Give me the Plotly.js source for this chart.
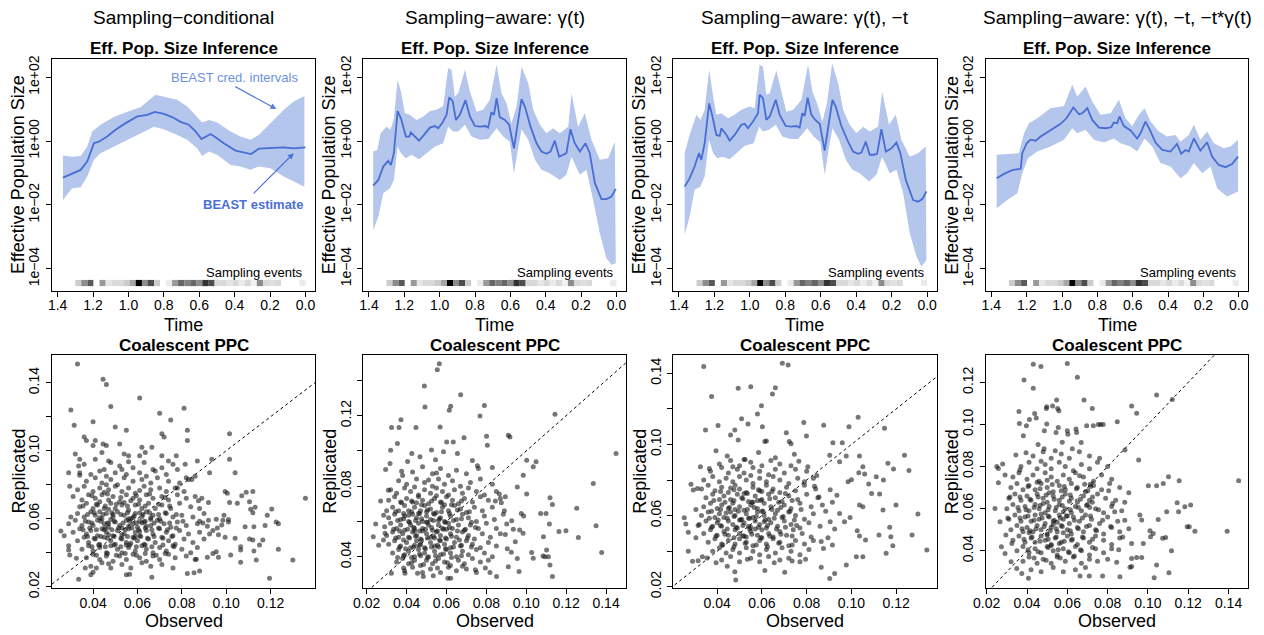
<!DOCTYPE html>
<html><head><meta charset="utf-8">
<script src="https://cdn.plot.ly/plotly-3.0.1.min.js"></script>
<style>html,body{margin:0;padding:0;background:#fff}#chart{width:1264px;height:635px}</style>
</head><body><div id="chart"></div>
<script>
// ---------- DATA ----------
const panelTitles = ["Sampling\u2212conditional", "Sampling\u2212aware: \u03b3(t)", "Sampling\u2212aware: \u03b3(t), \u2212t", "Sampling\u2212aware: \u03b3(t), \u2212t, \u2212t*\u03b3(t)"];
const timeTicks = [1.4, 1.2, 1.0, 0.8, 0.6, 0.4, 0.2, 0.0];
const timeTickText = ["1.4", "1.2", "1.0", "0.8", "0.6", "0.4", "0.2", "0.0"];
const neTicks = [1e-4, 1e-2, 1, 1e2];
const neTickText = ["1e\u221204", "1e\u221202", "1e+00", "1e+02"];

// [time, log10 Ne]
const med1 = [[1.370,-1.145],[1.318,-1.01],[1.270,-0.905],[1.233,-0.644],[1.195,-0.07],[1.167,-0.02],[1.120,0.14],[1.073,0.35],[1.016,0.56],[0.950,0.77],[0.894,0.82],[0.851,0.91],[0.800,0.85],[0.753,0.75],[0.706,0.60],[0.659,0.51],[0.621,0.30],[0.587,0.06],[0.565,0.12],[0.536,0.22],[0.508,0.12],[0.461,-0.07],[0.395,-0.30],[0.348,-0.36],[0.307,-0.41],[0.264,-0.24],[0.198,-0.22],[0.122,-0.20],[0.066,-0.23],[0.0,-0.20]];
const upp1 = [[1.370,-0.455],[1.318,-0.49],[1.270,-0.47],[1.233,-0.17],[1.205,0.30],[1.158,0.51],[1.082,0.75],[1.007,0.92],[0.932,1.06],[0.885,1.29],[0.847,1.45],[0.800,1.39],[0.725,1.29],[0.668,1.08],[0.612,0.77],[0.583,0.58],[0.546,0.66],[0.499,0.58],[0.423,0.30],[0.367,0.14],[0.311,0.04],[0.264,0.19],[0.198,0.56],[0.122,0.98],[0.066,1.24],[0.006,1.41]];
const low1 = [[1.370,-1.85],[1.318,-1.48],[1.270,-1.45],[1.233,-1.11],[1.195,-0.59],[1.158,-0.38],[1.082,-0.17],[1.007,0.04],[0.932,0.24],[0.856,0.45],[0.800,0.37],[0.725,0.19],[0.668,0.04],[0.612,-0.23],[0.583,-0.47],[0.546,-0.33],[0.499,-0.43],[0.423,-0.75],[0.367,-0.80],[0.311,-0.90],[0.264,-0.80],[0.198,-0.85],[0.122,-1.11],[0.066,-1.27],[0.006,-1.43]];

const med2 = [[1.376,-1.40],[1.347,-1.22],[1.319,-0.80],[1.291,-0.62],[1.276,-0.75],[1.259,-0.38],[1.238,0.94],[1.219,0.71],[1.191,0.14],[1.172,0.14],[1.163,0.27],[1.140,0.14],[1.117,0.01],[1.093,0.16],[1.055,0.42],[1.027,0.47],[1.008,0.40],[0.984,0.58],[0.961,0.82],[0.946,1.37],[0.927,1.26],[0.908,0.66],[0.886,0.82],[0.854,1.28],[0.829,0.77],[0.801,0.47],[0.773,0.45],[0.741,0.47],[0.726,0.42],[0.707,0.90],[0.693,0.82],[0.678,1.34],[0.660,0.75],[0.631,0.66],[0.607,0.51],[0.580,-0.23],[0.562,0.40],[0.537,1.31],[0.518,1.08],[0.486,0.45],[0.452,-0.07],[0.424,-0.33],[0.396,-0.40],[0.373,-0.33],[0.349,0.01],[0.324,-0.49],[0.301,-0.43],[0.283,-0.38],[0.260,0.37],[0.236,-0.07],[0.207,-0.33],[0.175,-0.07],[0.151,-0.38],[0.122,-1.32],[0.085,-1.82],[0.057,-1.82],[0.028,-1.74],[0.004,-1.50]];
const upp2 = [[1.376,-0.33],[1.353,-0.28],[1.334,0.24],[1.301,0.45],[1.278,0.35],[1.259,0.71],[1.238,1.92],[1.219,1.55],[1.197,0.87],[1.168,0.82],[1.131,0.66],[1.093,0.77],[1.055,0.94],[1.018,0.98],[0.980,1.10],[0.952,2.28],[0.933,2.23],[0.914,1.39],[0.895,1.50],[0.857,2.23],[0.829,1.55],[0.791,0.92],[0.754,0.98],[0.716,1.29],[0.678,2.39],[0.650,1.50],[0.622,1.18],[0.594,0.56],[0.565,1.08],[0.537,2.33],[0.499,1.81],[0.471,0.98],[0.433,0.51],[0.396,0.24],[0.358,0.40],[0.320,0.24],[0.273,0.45],[0.254,1.50],[0.217,0.45],[0.179,0.87],[0.141,0.04],[0.094,-0.59],[0.047,-0.54],[0.009,-0.02]];
const low2 = [[1.376,-2.79],[1.347,-2.37],[1.319,-1.64],[1.281,-1.48],[1.259,-1.22],[1.238,-0.17],[1.219,-0.38],[1.191,-0.54],[1.159,-0.43],[1.117,-0.57],[1.074,-0.38],[1.027,-0.17],[0.980,-0.07],[0.952,0.45],[0.923,0.30],[0.895,0.30],[0.857,0.51],[0.820,0.14],[0.773,0.04],[0.725,0.06],[0.678,0.40],[0.641,0.14],[0.603,-0.02],[0.580,-1.01],[0.556,-0.23],[0.537,0.37],[0.499,0.04],[0.461,-0.59],[0.424,-0.90],[0.377,-1.01],[0.320,-1.22],[0.283,-1.06],[0.254,-0.49],[0.207,-1.06],[0.170,-0.90],[0.132,-1.85],[0.094,-2.89],[0.057,-3.67],[0.028,-3.88],[0.004,-3.83]];

const med3 = [[1.368,-1.43],[1.340,-1.17],[1.312,-0.80],[1.287,-0.38],[1.274,-0.59],[1.255,-0.07],[1.230,1.18],[1.211,0.77],[1.189,0.19],[1.170,0.16],[1.161,0.40],[1.132,0.19],[1.114,0.01],[1.086,0.19],[1.048,0.51],[1.029,0.54],[1.011,0.40],[0.982,0.61],[0.954,0.87],[0.945,1.45],[0.926,1.34],[0.907,0.66],[0.888,0.77],[0.854,1.29],[0.832,0.82],[0.798,0.47],[0.766,0.45],[0.738,0.47],[0.719,0.42],[0.704,0.87],[0.691,0.79],[0.674,1.36],[0.653,0.82],[0.631,0.66],[0.606,0.54],[0.578,-0.30],[0.559,0.40],[0.534,1.29],[0.516,1.08],[0.484,0.47],[0.446,-0.02],[0.418,-0.33],[0.390,-0.40],[0.371,-0.36],[0.346,-0.02],[0.324,-0.43],[0.301,-0.43],[0.282,-0.40],[0.258,0.37],[0.233,-0.33],[0.201,-0.23],[0.173,-0.05],[0.151,-0.38],[0.120,-1.22],[0.079,-1.85],[0.051,-1.90],[0.026,-1.81],[0.004,-1.58]];
const upp3 = [[1.368,-0.38],[1.340,0.19],[1.302,0.82],[1.278,0.66],[1.255,0.98],[1.230,2.23],[1.207,1.39],[1.189,0.82],[1.161,0.87],[1.123,0.71],[1.086,0.82],[1.048,0.98],[1.001,1.08],[0.973,1.03],[0.945,2.39],[0.926,2.33],[0.907,1.45],[0.888,1.50],[0.851,2.21],[0.822,1.50],[0.794,0.92],[0.756,0.98],[0.709,1.29],[0.672,2.39],[0.647,1.55],[0.621,1.18],[0.591,0.61],[0.565,1.18],[0.536,2.44],[0.502,1.81],[0.474,0.98],[0.437,0.51],[0.399,0.24],[0.361,0.45],[0.324,0.30],[0.277,0.45],[0.254,1.55],[0.215,0.51],[0.177,0.82],[0.145,0.04],[0.098,-0.49],[0.051,-0.38],[0.008,-0.17]];
const low3 = [[1.368,-2.94],[1.340,-2.37],[1.312,-1.53],[1.280,-1.43],[1.255,-1.11],[1.230,0.04],[1.207,-0.38],[1.185,-0.54],[1.152,-0.49],[1.114,-0.57],[1.076,-0.38],[1.029,-0.15],[0.979,-0.07],[0.948,0.45],[0.926,0.30],[0.892,0.35],[0.854,0.51],[0.817,0.14],[0.772,0.06],[0.728,0.06],[0.677,0.40],[0.640,0.14],[0.602,-0.05],[0.578,-1.06],[0.553,-0.17],[0.534,0.40],[0.497,0.04],[0.459,-0.59],[0.422,-0.90],[0.380,-1.01],[0.328,-1.27],[0.286,-1.06],[0.254,-0.49],[0.211,-1.01],[0.173,-0.90],[0.135,-1.64],[0.098,-2.89],[0.060,-3.62],[0.032,-3.94],[0.004,-3.73]];

const med4 = [[1.370,-1.17],[1.328,-1.03],[1.281,-0.91],[1.234,-0.87],[1.225,-0.38],[1.200,-0.07],[1.178,0.04],[1.149,0.01],[1.121,0.14],[1.065,0.35],[1.008,0.54],[0.974,0.72],[0.936,1.05],[0.904,0.84],[0.885,0.87],[0.857,1.03],[0.829,0.66],[0.791,0.42],[0.754,0.40],[0.722,0.43],[0.707,0.58],[0.688,0.56],[0.675,0.77],[0.650,0.47],[0.612,0.33],[0.575,0.08],[0.556,0.24],[0.528,0.61],[0.503,0.35],[0.471,-0.05],[0.433,-0.28],[0.386,-0.33],[0.349,-0.09],[0.326,-0.40],[0.301,-0.28],[0.283,-0.33],[0.254,0.08],[0.217,-0.30],[0.179,-0.04],[0.151,-0.49],[0.113,-0.75],[0.075,-0.82],[0.038,-0.72],[0.004,-0.49]];
const upp4 = [[1.370,-0.43],[1.310,-0.40],[1.244,-0.38],[1.215,0.24],[1.187,0.56],[1.140,0.71],[1.065,1.03],[0.989,1.10],[0.942,1.76],[0.914,1.39],[0.867,1.71],[0.829,1.24],[0.782,0.82],[0.725,0.87],[0.678,1.29],[0.641,0.71],[0.603,0.47],[0.565,0.82],[0.533,1.03],[0.499,0.61],[0.452,0.30],[0.405,0.14],[0.358,0.19],[0.330,-0.02],[0.283,0.19],[0.254,0.51],[0.217,0.04],[0.179,0.30],[0.141,-0.07],[0.085,-0.23],[0.047,-0.17],[0.004,0.04]];
const low4 = [[1.370,-2.11],[1.310,-1.85],[1.253,-1.64],[1.225,-1.01],[1.193,-0.54],[1.140,-0.33],[1.065,-0.17],[0.989,0.04],[0.942,0.40],[0.914,0.24],[0.867,0.35],[0.820,0.04],[0.763,-0.05],[0.707,0.08],[0.669,-0.07],[0.612,-0.17],[0.575,-0.33],[0.533,0.08],[0.490,-0.17],[0.443,-0.69],[0.386,-0.80],[0.330,-1.17],[0.292,-1.01],[0.254,-0.69],[0.207,-1.01],[0.160,-0.80],[0.122,-1.48],[0.066,-1.74],[0.004,-1.58]];

// sampling-event density strip (bin centre time, relative density)
const sampT = [1.283,1.249,1.214,1.180,1.146,1.112,1.078,1.044,1.009,0.975,0.941,0.907,0.873,0.838,0.804,0.770,0.736,0.702,0.667,0.633,0.599,0.565,0.531,0.496,0.462,0.428,0.394,0.360,0.325,0.291,0.257,0.223,0.189,0.154,0.120,0.086,0.052,0.017];
const sampD = [0.2,0.45,0.65,0,0.4,0.1,0.15,0.15,0.2,0.35,1.0,0.45,0.7,0.2,0,0.08,0.4,0.6,0.5,0.6,0.45,0.8,0.7,0.15,0.15,0.1,0.15,0.08,0.15,0.05,0.45,0.15,0.12,0.15,0,0,0,0.08];

// [observed, replicated]
const ppc1 = [[.033,.151],[.0445,.142],[.046,.139],[.061,.131],[.048,.126],[.030,.124],[.070,.122],[.081,.125],[.0315,.115],[.040,.117],[.075,.118],[.050,.114],[.055,.112],[.0825,.112],[.0825,.106],[.071,.110],[.072,.108],[.1015,.110],[.036,.108],[.037,.106],[.041,.106],[.0445,.104],[.046,.103],[.052,.104],[.062,.102],[.0665,.102],[.040,.103],[.032,.098],[.034,.095],[.044,.099],[.054,.098],[.056,.097],[.061,.097],[.0635,.099],[.071,.097],[.0775,.097],[.074,.094],[.076,.092],[.0815,.092],[.0935,.095],[.1015,.095],[.087,.094],[.029,.087],[.0335,.091],[.104,.087],[.0925,.087],[.086,.085],[.0845,.083],[.082,.084],[.078,.078],[.0295,.079],[.034,.0855],[.0995,.076],[.1005,.075],[.109,.0755],[.112,.076],[.1105,.070],[.107,.0735],[.105,.069],[.1015,.0695],[.092,.0695],[.089,.072],[.0875,.0705],[.1357,.072],[.113,.0667],[.111,.0655],[.1205,.0657],[.1185,.062],[.1225,.058],[.1235,.057],[.112,.0635],[.099,.062],[.0985,.059],[.101,.0595],[.101,.058],[.0955,.0596],[.098,.0563],[.1085,.0553],[.1175,.056],[.1125,.0553],[.0895,.0575],[.0915,.0555],[.088,.0585],[.0925,.051],[.0965,.0505],[.096,.0545],[.0995,.049],[.104,.0485],[.1105,.048],[.112,.0475],[.1165,.0475],[.115,.0445],[.1065,.0435],[.1065,.0415],[.1125,.041],[.1235,.042],[.1135,.0357],[.1065,.0343],[.130,.0357],[.1195,.0249],[.102,.0386],[.0965,.0373],[.0955,.0405],[.094,.0395],[.0915,.0373],[.0865,.0361],[.088,.0292],[.0855,.0282],[.0825,.0278],[.0665,.0255],[.055,.027],[.0565,.0273],[.039,.027],[.0335,.0243],[.0255,.0527],[.027,.050],[.029,.044],[.029,.0416],[.0295,.0386],[.0365,.031],[.0325,.0367],[.0415,.031],[.040,.0285],
[.036,.092],[.041,.095],[.045,.089],[.048,.093],[.052,.091],[.058,.090],[.063,.093],[.067,.089],[.071,.090],[.047,.094],[.056,.0935],
[.034,.087],[.039,.086],[.043,.088],[.046,.085],[.050,.087],[.055,.086],[.061,.087],[.064,.085],[.068,.088],[.073,.086],[.078,.089],[.053,.089],
[.037,.082],[.041,.084],[.044,.081],[.048,.083],[.051,.080],[.054,.084],[.058,.082],[.062,.083],[.066,.081],[.069,.084],[.074,.082],[.079,.081],[.083,.083],[.046,.080],
[.033,.077],[.036,.079],[.040,.076],[.043,.078],[.047,.077],[.050,.079],[.053,.076],[.056,.078],[.059,.075],[.063,.079],[.066,.077],[.070,.078],[.073,.076],[.077,.078],[.081,.076],[.045,.0755],[.061,.0765],
[.031,.073],[.035,.071],[.038,.074],[.041,.072],[.044,.074],[.047,.071],[.049,.073],[.052,.070],[.055,.074],[.058,.072],[.061,.071],[.064,.074],[.067,.072],[.071,.073],[.074,.071],[.078,.074],[.082,.072],[.086,.073],[.043,.070],[.057,.0705],
[.034,.067],[.037,.069],[.040,.066],[.042,.068],[.045,.066],[.048,.069],[.050,.066],[.053,.068],[.056,.065],[.059,.068],[.062,.066],[.065,.069],[.068,.066],[.071,.068],[.075,.066],[.079,.069],[.084,.067],[.088,.066],[.054,.0695],[.047,.0655],
[.030,.061],[.033,.063],[.036,.061],[.039,.064],[.041,.062],[.044,.060],[.046,.063],[.049,.061],[.051,.064],[.054,.062],[.057,.060],[.059,.063],[.062,.061],[.064,.064],[.067,.062],[.070,.060],[.073,.063],[.076,.061],[.080,.062],[.085,.061],[.090,.063],[.043,.064],[.061,.0635],[.066,.0605],
[.029,.057],[.032,.059],[.035,.056],[.038,.058],[.040,.056],[.042,.059],[.045,.057],[.047,.055],[.050,.058],[.052,.056],[.055,.059],[.058,.057],[.060,.055],[.063,.058],[.066,.056],[.069,.059],[.072,.057],[.075,.055],[.078,.058],[.082,.056],[.087,.057],[.092,.059],[.048,.0595],[.061,.0585],[.056,.0555],
[.031,.052],[.034,.054],[.037,.051],[.039,.053],[.042,.050],[.044,.054],[.046,.052],[.049,.050],[.051,.053],[.054,.051],[.056,.054],[.059,.052],[.061,.050],[.064,.053],[.067,.051],[.070,.054],[.073,.052],[.076,.050],[.079,.053],[.083,.051],[.088,.052],[.094,.053],[.053,.0545],[.047,.0505],
[.033,.047],[.036,.049],[.038,.046],[.041,.048],[.043,.045],[.045,.049],[.048,.047],[.050,.045],[.053,.048],[.055,.046],[.058,.049],[.060,.047],[.063,.045],[.065,.048],[.068,.046],[.071,.049],[.074,.047],[.077,.045],[.081,.048],[.085,.046],[.090,.048],[.057,.0455],
[.035,.042],[.038,.044],[.040,.041],[.043,.043],[.046,.040],[.048,.044],[.051,.042],[.053,.040],[.056,.043],[.059,.041],[.062,.044],[.064,.042],[.067,.040],[.070,.043],[.073,.041],[.076,.044],[.080,.042],[.084,.040],[.087,.043],[.055,.0445],
[.037,.037],[.040,.039],[.043,.036],[.046,.038],[.049,.035],[.052,.038],[.055,.036],[.058,.039],[.061,.037],[.064,.035],[.067,.038],[.070,.036],[.074,.039],[.077,.037],[.082,.038],[.086,.036],
[.039,.032],[.044,.034],[.048,.031],[.053,.033],[.057,.031],[.062,.034],[.066,.032],[.071,.033],[.076,.031],[.047,.0335]];
const ppc1core = [[.0395,.0735],[.0465,.0745],[.0525,.0725],[.0595,.0735],[.0655,.0745],[.0725,.0725],
[.0355,.0675],[.0415,.0685],[.0455,.0675],[.0505,.0685],[.0555,.0675],[.0605,.0685],[.0635,.0675],[.0695,.0685],[.0745,.0675],
[.0375,.0625],[.0405,.0635],[.0445,.0625],[.0485,.0635],[.0525,.0625],[.0555,.0635],[.0585,.0615],[.0625,.0625],[.0655,.0635],[.0695,.0625],[.0725,.0635],[.0775,.0625],
[.0365,.0585],[.0395,.0575],[.0435,.0585],[.0465,.0575],[.0495,.0585],[.0535,.0575],[.0565,.0585],[.0595,.0575],[.0635,.0585],[.0675,.0575],[.0705,.0585],[.0745,.0575],[.0805,.0585],
[.0355,.0535],[.0385,.0545],[.0415,.0535],[.0455,.0545],[.0485,.0535],[.0515,.0545],[.0545,.0535],[.0575,.0545],[.0605,.0535],[.0635,.0545],[.0665,.0535],[.0695,.0545],[.0735,.0535],[.0775,.0545],
[.0375,.0495],[.0405,.0485],[.0435,.0495],[.0465,.0485],[.0495,.0495],[.0525,.0485],[.0555,.0495],[.0585,.0485],[.0615,.0495],[.0645,.0485],[.0675,.0495],[.0715,.0485],[.0755,.0495],
[.0395,.0435],[.0425,.0445],[.0455,.0435],[.0495,.0445],[.0525,.0435],[.0565,.0445],[.0595,.0435],[.0635,.0445],[.0665,.0435],[.0715,.0445],[.0765,.0435],
[.0415,.0385],[.0465,.0395],[.0505,.0385],[.0545,.0395],[.0595,.0385],[.0635,.0395],[.0685,.0385],[.0725,.0395],
[.056,.060],[.058,.0605],[.062,.0575],[.047,.057],[.045,.0535],[.053,.0505],[.064,.0555],[.066,.0595],[.049,.0625],[.043,.0605],[.059,.0495],[.061,.0525]];

const ppc2 = [[.0564,.1494],[.0554,.146],[.0489,.1368],[.0671,.1319],[.0492,.1249],[.0621,.1253],[.0614,.123],[.079,.1258],[.0768,.1198],[.1144,.1208],[.0372,.1177],[.0325,.1132],[.0362,.1132],[.0447,.1132],[.0568,.1136],[.0354,.1042],[.032,.1004],[.0426,.0985],[.0467,.0966],[.0601,.1051],[.0634,.1051],[.0688,.1075],[.091,.1089],[.0918,.1079],[.0801,.1083],[.0805,.1032],[.145,.0985],[.1336,.0815],[.1049,.0938],[.1002,.0947],[.1035,.091],[.0985,.0862],[.1002,.0755],[.1119,.0734],[.1131,.0696],[.1253,.0674],[.1072,.0645],[.1099,.0645],[.0975,.0645],[.0987,.063],[.1116,.0585],[.135,.0575],[.1164,.0542],[.1199,.0547],[.1261,.0509],[.1086,.0513],[.0967,.0551],[.0984,.0532],[.1102,.0438],[.1111,.040],[.1084,.0404],[.1094,.040],[.1027,.0423],[.1035,.0391],[.1378,.0423],[.1119,.0353],[.1131,.0287],[.091,.0343],[.0964,.0315],[.0851,.0287],[.0818,.031],[.0621,.0277],[.0607,.0277],[.0534,.0291],[.0484,.0287],[.0392,.0306],[.0324,.0306],[.0233,.0513],[.0245,.0585],[.0284,.0494],[.0292,.0532],[.0309,.0777],[.0295,.0894],[.0317,.0928],[.0902,.0585],[.0927,.0604],[.0895,.0525],[.0935,.0555],[.0945,.0485],[.0925,.0425],[.0955,.039],[.0905,.0445],[.0885,.064],[.0875,.0705],[.0895,.074],[.0865,.0755],[.0845,.0715],[.0955,.0795],[.083,.0905],[.0755,.0915],[.073,.0945],[.0655,.0985],[.0585,.0995],[.0525,.1005],[.0545,.095],[.0405,.094],[.0375,.0885],[.027,.0715],[.0285,.0635],[.026,.0465],[.0355,.0395],[.0385,.0335],[.0455,.0305],[.0555,.0335],[.068,.0345],[.0745,.0325],[.0795,.0335],
[.043,.088],[.048,.091],[.053,.087],[.057,.090],[.061,.086],[.065,.089],[.070,.087],[.076,.090],[.038,.086],[.055,.0875],
[.036,.083],[.040,.081],[.045,.084],[.049,.082],[.053,.080],[.056,.084],[.059,.081],[.063,.083],[.067,.080],[.072,.082],[.077,.084],[.083,.081],[.051,.0835],
[.032,.078],[.035,.076],[.039,.079],[.042,.077],[.046,.075],[.049,.078],[.052,.076],[.055,.079],[.058,.077],[.061,.075],[.064,.078],[.068,.076],[.071,.079],[.075,.077],[.079,.075],[.085,.077],[.044,.0795],
[.031,.072],[.034,.074],[.037,.071],[.040,.073],[.043,.071],[.046,.074],[.048,.072],[.051,.070],[.054,.073],[.057,.071],[.060,.074],[.063,.072],[.066,.070],[.069,.073],[.073,.071],[.077,.074],[.081,.072],[.087,.073],[.055,.0745],[.045,.0705],
[.030,.066],[.033,.068],[.036,.066],[.039,.069],[.041,.066],[.044,.068],[.047,.066],[.049,.069],[.052,.067],[.055,.065],[.058,.068],[.061,.066],[.064,.069],[.067,.067],[.070,.065],[.074,.068],[.078,.066],[.083,.068],[.089,.066],[.050,.0655],[.059,.0695],
[.031,.062],[.034,.064],[.037,.061],[.039,.063],[.041,.060],[.043,.064],[.045,.062],[.048,.060],[.050,.063],[.052,.061],[.054,.064],[.057,.062],[.059,.060],[.062,.063],[.065,.061],[.068,.064],[.071,.062],[.075,.060],[.079,.063],[.084,.061],[.046,.0645],[.056,.0605],[.041,.0635],
[.029,.057],[.032,.059],[.035,.056],[.037,.058],[.039,.055],[.042,.058],[.044,.056],[.046,.059],[.048,.056],[.051,.058],[.053,.055],[.056,.058],[.058,.056],[.061,.059],[.063,.056],[.066,.058],[.069,.055],[.072,.058],[.076,.056],[.080,.059],[.085,.056],[.050,.0595],[.060,.0555],[.044,.0545],
[.030,.052],[.033,.054],[.036,.051],[.038,.053],[.041,.051],[.043,.054],[.045,.052],[.047,.050],[.050,.053],[.052,.051],[.055,.054],[.057,.052],[.060,.050],[.062,.053],[.065,.051],[.068,.054],[.071,.052],[.074,.050],[.078,.053],[.082,.051],[.087,.053],[.054,.0505],[.048,.0545],
[.031,.047],[.034,.049],[.037,.046],[.040,.048],[.042,.045],[.045,.049],[.047,.047],[.049,.045],[.052,.048],[.054,.046],[.057,.049],[.059,.047],[.062,.045],[.064,.048],[.067,.046],[.070,.049],[.073,.047],[.077,.045],[.081,.048],[.085,.046],[.056,.0455],[.044,.0465],
[.033,.042],[.036,.044],[.039,.041],[.041,.043],[.044,.040],[.046,.044],[.049,.042],[.051,.040],[.054,.043],[.057,.041],[.060,.044],[.062,.042],[.065,.040],[.068,.043],[.071,.041],[.075,.044],[.079,.042],[.083,.040],[.047,.0405],
[.035,.037],[.038,.039],[.041,.036],[.044,.038],[.047,.035],[.050,.038],[.053,.036],[.056,.039],[.059,.037],[.062,.035],[.066,.038],[.069,.036],[.073,.039],[.077,.037],[.081,.038],
[.039,.032],[.043,.034],[.048,.031],[.052,.033],[.057,.031],[.061,.034],[.065,.032],[.070,.033],[.075,.031]];
const ppc2core = [[.0375,.0705],[.0425,.0715],[.0475,.0695],[.0525,.0715],[.0575,.0705],[.0625,.0695],[.0675,.0715],
[.0345,.0655],[.0385,.0645],[.0425,.0655],[.0465,.0645],[.0505,.0665],[.0535,.0645],[.0575,.0655],[.0615,.0645],[.0655,.0665],[.0715,.0655],
[.0355,.0605],[.0385,.0615],[.0415,.0595],[.0445,.0605],[.0475,.0615],[.0505,.0595],[.0535,.0605],[.0565,.0615],[.0595,.0595],[.0635,.0605],[.0675,.0615],[.0725,.0595],
[.0335,.0555],[.0365,.0545],[.0405,.0555],[.0435,.0565],[.0465,.0545],[.0495,.0555],[.0525,.0565],[.0555,.0545],[.0585,.0555],[.0615,.0565],[.0655,.0545],[.0695,.0555],[.0745,.0565],
[.0345,.0505],[.0385,.0495],[.0415,.0505],[.0445,.0515],[.0475,.0495],[.0505,.0505],[.0535,.0515],[.0565,.0495],[.0595,.0505],[.0625,.0515],[.0665,.0495],[.0705,.0505],
[.0365,.0455],[.0395,.0445],[.0435,.0455],[.0465,.0465],[.0495,.0445],[.0525,.0455],[.0555,.0465],[.0595,.0445],[.0635,.0455],[.0675,.0465],[.0725,.0455],
[.0385,.0405],[.0425,.0395],[.0465,.0415],[.0505,.0395],[.0545,.0405],[.0585,.0415],[.0625,.0395],[.0675,.0405],
[.0425,.0365],[.0485,.0355],[.0545,.0375],[.0605,.0365]];

const ppc3 = [[.034,.1438],[.0691,.1456],[.0717,.1447],[.0494,.1316],[.055,.1325],[.066,.1319],[.0647,.1284],[.0375,.1269],[.0598,.1218],[.058,.1171],[.103,.1153],[.0509,.1145],[.0404,.1106],[.0348,.1081],[.0538,.1115],[.0602,.110],[.0787,.1123],[.0876,.1108],[.0989,.110],[.1148,.1091],[.0479,.1081],[.046,.1053],[.0494,.1025],[.0709,.1066],[.0799,.1048],[.062,.102],[.0613,.1017],[.0722,.1017],[.073,.1004],[.0917,.101],[.0959,.101],[.1237,.094],[.1036,.0935],[.1051,.0875],[.0977,.0935],[.0903,.094],[.0947,.0903],[.1163,.0894],[.1188,.0862],[.1257,.0853],[.1033,.0841],[.1059,.0834],[.1111,.0819],[.1143,.080],[.1077,.0778],[.0985,.0791],[.1,.0801],[.1126,.0721],[.109,.0725],[.1036,.0659],[.1051,.065],[.1141,.0631],[.1199,.0659],[.1297,.0609],[.0947,.0612],[.0969,.0565],[.0994,.059],[.1171,.0534],[.1026,.0515],[.1036,.0485],[.1123,.0491],[.1063,.0463],[.1176,.0481],[.1185,.0431],[.1271,.0491],[.1337,.0406],[.1155,.0388],[.1022,.0369],[.1051,.0369],[.0977,.0322],[.0865,.0309],[.0903,.0247],[.0925,.0275],[.0702,.0281],[.0613,.0291],[.0483,.0238],[.0479,.0285],[.0271,.040],[.0253,.0588],[.026,.0553],[.0271,.0506],[.0283,.0776],[.0293,.0744],[.0312,.0753],[.029,.0344],[.0315,.0346],[.0334,.0368],[.0355,.0361],[.0915,.0675],[.0935,.0715],[.0905,.0745],[.0885,.0625],[.0905,.0565],[.0925,.0525],[.0895,.0475],[.0915,.0435],[.0875,.0415],[.0865,.0455],[.0855,.0705],[.0835,.0765],[.0845,.0825],[.0805,.0875],[.0765,.0905],[.0745,.0945],[.066,.0925],[.0585,.0955],[.0525,.0915],[.0445,.0935],[.0395,.0965],[.0365,.0865],[.0325,.0875],[.0305,.0635],[.0315,.0545],[.0305,.0475],[.0395,.0335],[.0445,.0315],[.0535,.0355],[.0655,.0335],[.0735,.0345],[.0795,.0355],
[.041,.089],[.046,.091],[.050,.088],[.055,.090],[.060,.088],[.064,.091],[.068,.089],[.073,.088],[.052,.0915],
[.037,.085],[.042,.087],[.045,.084],[.049,.086],[.052,.084],[.056,.087],[.059,.085],[.063,.083],[.066,.086],[.070,.084],[.075,.086],[.080,.085],[.047,.0875],
[.034,.080],[.038,.082],[.041,.079],[.044,.081],[.047,.079],[.050,.082],[.053,.080],[.056,.078],[.059,.081],[.062,.079],[.065,.082],[.068,.080],[.072,.078],[.076,.081],[.079,.079],[.083,.081],[.055,.0825],
[.033,.075],[.036,.077],[.039,.074],[.042,.076],[.045,.073],[.048,.077],[.050,.075],[.053,.073],[.056,.076],[.059,.074],[.062,.077],[.065,.075],[.068,.073],[.071,.076],[.075,.074],[.079,.077],[.084,.075],[.046,.0755],[.060,.0735],
[.035,.070],[.038,.072],[.041,.069],[.043,.071],[.046,.069],[.049,.072],[.051,.070],[.054,.068],[.057,.071],[.060,.069],[.063,.072],[.066,.070],[.069,.068],[.072,.071],[.076,.069],[.080,.072],[.085,.070],[.052,.0725],[.058,.0685],
[.034,.065],[.037,.067],[.040,.064],[.042,.066],[.045,.064],[.047,.067],[.050,.065],[.052,.063],[.055,.066],[.058,.064],[.061,.067],[.064,.065],[.067,.063],[.070,.066],[.073,.064],[.077,.067],[.082,.065],[.087,.066],[.056,.0675],[.048,.0635],
[.033,.060],[.036,.062],[.039,.059],[.041,.061],[.043,.059],[.046,.062],[.048,.060],[.051,.058],[.053,.061],[.056,.059],[.058,.062],[.061,.060],[.063,.058],[.066,.061],[.069,.059],[.072,.062],[.075,.060],[.079,.058],[.083,.061],[.060,.0625],[.054,.0585],[.044,.0615],
[.032,.055],[.035,.057],[.038,.054],[.040,.056],[.042,.054],[.045,.057],[.047,.055],[.049,.053],[.052,.056],[.054,.054],[.057,.057],[.059,.055],[.062,.053],[.064,.056],[.067,.054],[.070,.057],[.073,.055],[.077,.053],[.081,.056],[.086,.054],[.055,.0535],[.050,.0575],[.061,.0565],
[.034,.050],[.037,.052],[.040,.049],[.043,.051],[.045,.049],[.048,.052],[.050,.050],[.053,.048],[.055,.051],[.058,.049],[.060,.052],[.063,.050],[.065,.048],[.068,.051],[.071,.049],[.074,.052],[.078,.050],[.082,.048],[.057,.0525],[.052,.0485],
[.036,.045],[.039,.047],[.042,.044],[.045,.046],[.048,.044],[.050,.047],[.053,.045],[.056,.043],[.059,.046],[.062,.044],[.065,.047],[.068,.045],[.072,.043],[.075,.046],[.079,.044],[.083,.046],[.060,.0475],
[.038,.040],[.041,.042],[.044,.039],[.047,.041],[.050,.039],[.053,.042],[.056,.040],[.059,.038],[.062,.041],[.066,.039],[.069,.042],[.073,.040],[.077,.038],[.081,.041],
[.042,.035],[.046,.037],[.050,.034],[.055,.036],[.059,.034],[.063,.037],[.068,.035],[.072,.036],[.077,.034]];
const ppc3core = [[.0415,.0735],[.0475,.0745],[.0535,.0725],[.0585,.0745],[.0645,.0735],[.0705,.0725],
[.0385,.0685],[.0435,.0675],[.0475,.0685],[.0515,.0695],[.0555,.0675],[.0595,.0685],[.0635,.0695],[.0675,.0675],[.0735,.0685],
[.0375,.0625],[.0415,.0635],[.0455,.0645],[.0495,.0625],[.0535,.0635],[.0565,.0645],[.0605,.0625],[.0645,.0635],[.0685,.0645],[.0725,.0625],[.0775,.0635],
[.0365,.0585],[.0405,.0575],[.0445,.0585],[.0475,.0595],[.0505,.0575],[.0545,.0585],[.0575,.0595],[.0615,.0575],[.0655,.0585],[.0695,.0595],[.0745,.0575],
[.0375,.0535],[.0415,.0545],[.0445,.0525],[.0485,.0535],[.0515,.0545],[.0545,.0525],[.0585,.0535],[.0625,.0545],[.0665,.0525],[.0705,.0535],[.0755,.0545],
[.0395,.0485],[.0435,.0495],[.0475,.0475],[.0515,.0485],[.0555,.0495],[.0595,.0475],[.0635,.0485],[.0685,.0495],[.0735,.0485],
[.0425,.0435],[.0475,.0425],[.0525,.0445],[.0575,.0435],[.0625,.0425],[.0675,.0445],[.0735,.0435]];

const ppc4 = [[.0431,.1286],[.0469,.1275],[.060,.129],[.065,.1224],[.0385,.1211],[.0431,.1172],[.1043,.114],[.1121,.1119],[.0547,.1116],[.0527,.1088],[.0498,.1084],[.0496,.1076],[.0683,.1116],[.0724,.1076],[.036,.1061],[.0552,.1076],[.0558,.1065],[.0412,.1024],[.0362,.1005],[.0438,.1052],[.0446,.1031],[.0919,.1088],[.0944,.1053],[.0848,.1013],[.0754,.100],[.0765,.100],[.0778,.100],[.0696,.0994],[.0729,.0994],[.0643,.0978],[.0646,.0962],[.06,.097],[.0603,.0954],[.0555,.0986],[.0544,.0962],[.0498,.1002],[.0486,.097],[.0397,.0994],[.0382,.0946],[.0669,.0914],[.0954,.0831],[.0886,.0879],[.025,.080],[.0258,.0791],[.0279,.0812],[.0291,.076],[.0365,.0784],[.0258,.0723],[.0661,.0756],[.0686,.0716],[.0714,.0716],[.0702,.0685],[.0724,.063],[.0711,.0606],[.1002,.0709],[.1043,.0709],[.1076,.072],[.1102,.0752],[.1155,.0733],[.145,.0733],[.1093,.0585],[.1145,.0628],[.1152,.0585],[.1183,.0609],[.1212,.0617],[.1195,.0514],[.1205,.0514],[.1233,.0493],[.1393,.0493],[.101,.0495],[.1026,.0482],[.1013,.0466],[.1051,.0549],[.0960,.057],[.0969,.0546],[.1073,.0459],[.1088,.0463],[.1117,.040],[.0977,.0435],[.0919,.0435],[.0919,.0363],[.0944,.0368],[.0969,.0368],[.1043,.0332],[.1031,.0272],[.1104,.0295],[.0911,.0322],[.0919,.0325],[.0861,.0276],[.0775,.028],[.0709,.028],[.0663,.028],[.0407,.0269],[.0374,.0292],[.0241,.0601],[.0266,.0538],[.0273,.0419],[.0291,.0387],[.0321,.0348],[.0349,.0316],[.0885,.063],[.0905,.0675],[.0885,.0545],[.0905,.0505],[.0875,.0465],[.0855,.0405],[.0845,.0345],[.0815,.0515],[.0835,.0585],[.0825,.0625],[.0805,.0685],[.0315,.0655],[.0305,.0555],[.0295,.0475],[.0325,.0435],[.0345,.0855],[.0395,.0865],[.0455,.0905],[.0625,.0885],[.0575,.0915],[.0485,.0885],
[.043,.085],[.048,.087],[.052,.084],[.057,.086],[.061,.084],[.066,.087],[.071,.085],[.076,.084],[.054,.0875],
[.037,.080],[.041,.082],[.045,.079],[.049,.081],[.052,.079],[.056,.082],[.059,.080],[.063,.078],[.067,.081],[.071,.079],[.075,.082],[.080,.080],[.047,.0825],
[.033,.075],[.036,.077],[.040,.074],[.043,.076],[.046,.073],[.049,.077],[.052,.075],[.055,.073],[.058,.076],[.061,.074],[.064,.077],[.068,.075],[.073,.073],[.077,.076],[.082,.074],[.050,.0735],
[.032,.070],[.035,.072],[.038,.069],[.041,.071],[.044,.069],[.047,.072],[.050,.070],[.053,.068],[.056,.071],[.059,.069],[.062,.072],[.065,.070],[.069,.068],[.073,.071],[.077,.069],[.081,.072],[.086,.070],[.045,.0725],[.057,.0685],
[.031,.065],[.034,.067],[.037,.064],[.040,.066],[.042,.064],[.045,.067],[.048,.065],[.050,.063],[.053,.066],[.056,.064],[.059,.067],[.062,.065],[.065,.063],[.068,.066],[.071,.064],[.075,.067],[.079,.065],[.084,.064],[.051,.0675],[.061,.0635],
[.030,.060],[.033,.062],[.036,.059],[.039,.061],[.041,.059],[.044,.062],[.046,.060],[.049,.058],[.051,.061],[.054,.059],[.056,.062],[.059,.060],[.062,.058],[.064,.061],[.067,.059],[.070,.062],[.074,.060],[.078,.058],[.082,.061],[.087,.059],[.048,.0625],[.058,.0585],
[.031,.055],[.034,.057],[.037,.054],[.039,.056],[.042,.054],[.044,.057],[.046,.055],[.049,.053],[.051,.056],[.053,.054],[.056,.057],[.058,.055],[.061,.053],[.063,.056],[.066,.054],[.069,.057],[.072,.055],[.076,.053],[.080,.056],[.085,.054],[.047,.0575],[.055,.0535],[.060,.0565],
[.032,.050],[.035,.052],[.038,.049],[.040,.051],[.043,.049],[.045,.052],[.047,.050],[.050,.048],[.052,.051],[.055,.049],[.057,.052],[.060,.050],[.062,.048],[.065,.051],[.068,.049],[.071,.052],[.074,.050],[.078,.048],[.082,.051],[.086,.049],[.053,.0525],[.058,.0485],[.041,.0485],
[.033,.045],[.036,.047],[.039,.044],[.042,.046],[.044,.044],[.047,.047],[.049,.045],[.052,.043],[.054,.046],[.057,.044],[.060,.047],[.062,.045],[.065,.043],[.068,.046],[.071,.044],[.074,.047],[.078,.045],[.082,.043],[.086,.046],[.050,.0475],[.056,.0435],
[.035,.040],[.038,.042],[.041,.039],[.044,.041],[.047,.039],[.050,.042],[.053,.040],[.055,.038],[.058,.041],[.061,.039],[.064,.042],[.067,.040],[.071,.038],[.074,.041],[.078,.039],[.082,.041],[.052,.0425],
[.038,.035],[.041,.037],[.045,.034],[.048,.036],[.052,.034],[.055,.037],[.059,.035],[.063,.037],[.067,.034],[.071,.036],[.075,.035],[.080,.036],
[.042,.031],[.047,.030],[.053,.032],[.058,.030],[.064,.031],[.069,.032]];
const ppc4core = [[.0405,.0705],[.0465,.0695],[.0525,.0715],[.0585,.0705],[.0645,.0695],[.0715,.0705],
[.0365,.0655],[.0415,.0645],[.0455,.0655],[.0495,.0665],[.0535,.0645],[.0575,.0655],[.0615,.0665],[.0665,.0645],[.0725,.0655],
[.0355,.0605],[.0395,.0595],[.0435,.0605],[.0465,.0615],[.0505,.0595],[.0545,.0605],[.0575,.0615],[.0615,.0595],[.0655,.0605],[.0695,.0615],[.0755,.0595],
[.0365,.0555],[.0405,.0565],[.0435,.0545],[.0475,.0555],[.0505,.0565],[.0535,.0545],[.0565,.0555],[.0595,.0565],[.0635,.0545],[.0675,.0555],[.0715,.0565],[.0775,.0545],
[.0375,.0505],[.0415,.0495],[.0445,.0505],[.0485,.0515],[.0515,.0495],[.0545,.0505],[.0575,.0515],[.0615,.0495],[.0655,.0505],[.0695,.0515],[.0745,.0495],
[.0385,.0455],[.0425,.0465],[.0465,.0445],[.0505,.0455],[.0545,.0465],[.0585,.0445],[.0625,.0455],[.0675,.0465],[.0725,.0455],
[.0405,.0405],[.0455,.0395],[.0505,.0415],[.0555,.0405],[.0605,.0395],[.0665,.0405],[.0725,.0415],
[.0435,.0365],[.0495,.0355],[.0565,.0365],[.0635,.0375]];

// ---------- STYLE / LAYOUT ----------
const FONT = "Liberation Sans, Arial, Helvetica, sans-serif";
const W = 1264, H = 635;
const boxL = [52, 363.3, 673.3, 985.7], boxR = [315, 626, 936.7, 1248.3];
const topBox = [59, 291], botBox = [355, 588];
const bandColor = "rgb(180,198,236)", lineColor = "rgb(72,110,212)";
const neSets = [[med1, upp1, low1], [med2, upp2, low2], [med3, upp3, low3], [med4, upp4, low4]];
const ppcSets = [ppc1.concat(ppc1core), ppc2.concat(ppc2core), ppc3.concat(ppc3core), ppc4.concat(ppc4core)];
const ppcX = [[0.0215, 0.14], [0.0183, 0.150], [0.0204, 0.1381], [0.0195, 0.1498]];
const ppcY = [[0.0192, 0.1563], [0.0222, 0.1544], [0.0193, 0.1503], [0.0223, 0.133]];
const ppcXt = [[0.04, 0.06, 0.08, 0.10, 0.12], [0.02, 0.04, 0.06, 0.08, 0.10, 0.12, 0.14], [0.04, 0.06, 0.08, 0.10, 0.12], [0.02, 0.04, 0.06, 0.08, 0.10, 0.12, 0.14]];
const ppcYt = [[0.02, 0.04, 0.06, 0.08, 0.10, 0.12, 0.14], [0.04, 0.06, 0.08, 0.10, 0.12, 0.14], [0.02, 0.04, 0.06, 0.08, 0.10, 0.12, 0.14], [0.04, 0.06, 0.08, 0.10, 0.12]];
const ppcYtl = [["0.02", "", "0.06", "", "0.10", "", "0.14"], ["0.04", "", "0.08", "", "0.12", ""], ["0.02", "", "0.06", "", "0.10", "", "0.14"], ["0.04", "0.06", "0.08", "0.10", "0.12"]];

const pow10 = v => Math.pow(10, v);
const px2x = p => p / W, py2y = p => 1 - p / H;
const axName = (k, letter) => (k === 1 ? letter : letter + k);

const baseAxis = {
  showline: true, mirror: true, linecolor: "black", linewidth: 1,
  ticks: "outside", ticklen: 5, tickwidth: 1, tickcolor: "black",
  showgrid: false, zeroline: false, fixedrange: true,
  tickfont: { family: FONT, size: 14, color: "black" }
};

const traces = [];
const layout = {
  width: W, height: H, margin: { l: 0, r: 0, t: 0, b: 0 },
  paper_bgcolor: "white", plot_bgcolor: "white", showlegend: false,
  font: { family: FONT, color: "black" }, annotations: []
};

for (let i = 0; i < 4; i++) {
  const kt = i + 1, kb = i + 5;
  const xt = axName(kt, "x"), yt = axName(kt, "y"), xb = axName(kb, "x"), yb = axName(kb, "y");
  const dom = [px2x(boxL[i]), px2x(boxR[i])];
  const cx = (boxL[i] + boxR[i]) / 2;

  layout["xaxis" + (kt === 1 ? "" : kt)] = Object.assign({}, baseAxis, {
    domain: dom, anchor: yt, range: [1.432, -0.054], tickvals: timeTicks, ticktext: timeTickText,
    ticklabelstandoff: -4
  });
  layout["yaxis" + (kt === 1 ? "" : kt)] = Object.assign({}, baseAxis, {
    domain: [py2y(topBox[1]), py2y(topBox[0])], anchor: xt, type: "log",
    range: [-4.70, 2.57], tickvals: neTicks, ticktext: neTickText, tickangle: -90, ticklabelstandoff: 1
  });
  layout["xaxis" + kb] = Object.assign({}, baseAxis, {
    domain: dom, anchor: yb, range: ppcX[i], tickvals: ppcXt[i],
    ticktext: ppcXt[i].map(v => v.toFixed(2)), ticklabelstandoff: -3
  });
  layout["yaxis" + kb] = Object.assign({}, baseAxis, {
    domain: [py2y(botBox[1]), py2y(botBox[0])], anchor: xb, range: ppcY[i],
    tickvals: ppcYt[i], ticktext: ppcYtl[i], tickangle: -90, ticklabelstandoff: 1
  });

  const [med, upp, low] = neSets[i];
  const lowRev = low.slice().reverse();
  traces.push({
    type: "scatter", mode: "lines", xaxis: xt, yaxis: yt,
    x: upp.map(p => p[0]).concat(lowRev.map(p => p[0])),
    y: upp.map(p => pow10(p[1])).concat(lowRev.map(p => pow10(p[1]))),
    fill: "toself", fillcolor: bandColor, line: { width: 0, color: bandColor }, hoverinfo: "skip"
  });
  traces.push({
    type: "scatter", mode: "lines", xaxis: xt, yaxis: yt,
    x: med.map(p => p[0]), y: med.map(p => pow10(p[1])),
    line: { color: lineColor, width: 1.8, shape: "linear" }
  });
  traces.push({
    type: "scatter", mode: "markers", xaxis: xt, yaxis: yt,
    x: sampT, y: sampT.map(() => pow10(-4.45)),
    marker: { symbol: "square", size: 6.2, color: sampD, cmin: 0, cmax: 1,
      colorscale: [[0, "rgb(255,255,255)"], [1, "rgb(0,0,0)"]], line: { width: 0 } },
    hoverinfo: "skip"
  });

  const pts = ppcSets[i];
  traces.push({
    type: "scatter", mode: "lines", xaxis: xb, yaxis: yb,
    x: [0, 0.2], y: [0, 0.2], line: { color: "black", width: 1, dash: "3px,3px" }, hoverinfo: "skip"
  });
  traces.push({
    type: "scatter", mode: "markers", xaxis: xb, yaxis: yb,
    x: pts.map(p => p[0]), y: pts.map(p => p[1]),
    marker: { size: 5, color: "rgba(20,20,20,0.58)", line: { width: 0 } }
  });

  const A = layout.annotations;
  A.push({ xref: "paper", yref: "paper", x: px2x(cx), y: py2y(18), text: panelTitles[i], showarrow: false,
    xanchor: "center", yanchor: "middle", font: { family: FONT, size: 19, color: "black" } });
  A.push({ xref: "paper", yref: "paper", x: px2x(cx), y: py2y(48), text: "<b>Eff. Pop. Size Inference</b>", showarrow: false,
    xanchor: "center", yanchor: "middle", font: { family: FONT, size: 17, color: "black" } });
  A.push({ xref: "paper", yref: "paper", x: px2x(cx), y: py2y(345), text: "<b>Coalescent PPC</b>", showarrow: false,
    xanchor: "center", yanchor: "middle", font: { family: FONT, size: 17, color: "black" } });
  A.push({ xref: "paper", yref: "paper", x: px2x(cx), y: py2y(325), text: "Time", showarrow: false,
    xanchor: "center", yanchor: "middle", font: { family: FONT, size: 18, color: "black" } });
  A.push({ xref: "paper", yref: "paper", x: px2x(cx), y: py2y(621), text: "Observed", showarrow: false,
    xanchor: "center", yanchor: "middle", font: { family: FONT, size: 18, color: "black" } });
  A.push({ xref: "paper", yref: "paper", x: px2x(boxL[i] - 34), y: py2y((topBox[0] + topBox[1]) / 2), text: "Effective Population Size",
    showarrow: false, textangle: -90, xanchor: "center", yanchor: "middle", font: { family: FONT, size: 18, color: "black" } });
  A.push({ xref: "paper", yref: "paper", x: px2x(boxL[i] - 34), y: py2y((botBox[0] + botBox[1]) / 2), text: "Replicated",
    showarrow: false, textangle: -90, xanchor: "center", yanchor: "middle", font: { family: FONT, size: 18, color: "black" } });
  A.push({ xref: xt, yref: yt, x: 0, y: -4.13, text: "Sampling events", showarrow: false,
    xanchor: "right", yanchor: "middle", font: { family: FONT, size: 13, color: "black" } });
}

layout.annotations.push(
  { xref: "x", yref: "y", x: 0.401, y: 1.99, text: "BEAST cred. intervals", showarrow: false,
    xanchor: "center", yanchor: "middle", font: { family: FONT, size: 13, color: "rgb(110,145,228)" } },
  { xref: "x", yref: "y", x: 0.164, y: 1.0, ax: 0.405, ay: 1.73, axref: "x", ayref: "y", text: "",
    showarrow: true, arrowhead: 2, arrowsize: 1, arrowwidth: 1.2, arrowcolor: "rgb(90,125,220)" },
  { xref: "x", yref: "y", x: 0.295, y: -2.0, text: "<b>BEAST estimate</b>", showarrow: false,
    xanchor: "center", yanchor: "middle", font: { family: FONT, size: 13, color: "rgb(75,112,214)" } },
  { xref: "x", yref: "y", x: 0.066, y: -0.38, ax: 0.301, ay: -1.69, axref: "x", ayref: "y", text: "",
    showarrow: true, arrowhead: 2, arrowsize: 1, arrowwidth: 1.2, arrowcolor: "rgb(75,112,214)" }
);

Plotly.newPlot("chart", traces, layout, { staticPlot: true, displayModeBar: false });
</script>
</body></html>
